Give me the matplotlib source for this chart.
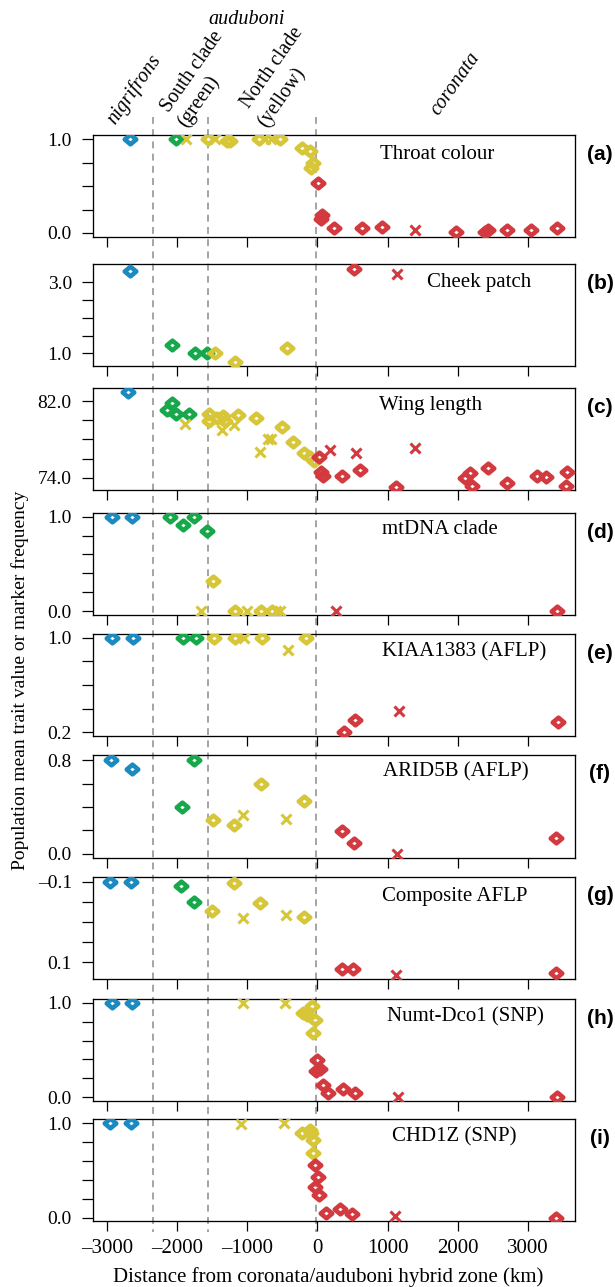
import matplotlib
matplotlib.use("Agg")
import matplotlib.pyplot as plt
from matplotlib.path import Path
from matplotlib.markers import MarkerStyle
from matplotlib.lines import Line2D
from matplotlib.transforms import blended_transform_factory

plt.rcParams['font.family'] = ['Liberation Serif', 'DejaVu Serif']

# ---------------- data (km from hybrid zone, value, group, marker) ----------------
# groups: b = nigrifrons, g = auduboni south clade, y = auduboni north clade, r = coronata
# markers: d = diamond, x = cross
A_KM = [-2676, -2020, -1869, -1565, -1460, -1290, -1240, -830, -740, -660, -531, -215, -100, -57, -85,
        15, 60, 45, 235, 628, 925, 1390, 1973, 2383, 2428, 2703, 3044, 3410]
A_VAL = [1.0, 1.0, 1.0, 1.0, 1.0, 0.98, 0.98, 1.0, 1.0, 1.0, 1.0, 0.91, 0.87, 0.745, 0.69,
         0.53, 0.19, 0.15, 0.055, 0.053, 0.06, 0.035, 0.007, 0.007, 0.03, 0.035, 0.028, 0.05]
A_GRP = "bg" + "y" * 13 + "r" * 13
A_MRK = "dd" + "xdxdddxxddddd" + "ddddddxdddddd"

B_KM = [-2665, -2070, -1750, -1576, -1458, -1172, -437, 517, 1128]
B_VAL = [3.32, 1.24, 1.0, 1.0, 1.0, 0.755, 1.16, 3.39, 3.25]
B_GRP = "bgggyyyrr"
B_MRK = "ddddddddx"

C_KM = [-2693,
        -2076, -2148, -2020, -1835,
        -1879, -1542, -1542, -1431, -1347, -1318, -1133, -1357, -1189, -869, -499, -813, -701, -656,
        -353, -185, -111, -56,
        17, 185, 57, 84, 343, 551, 606, 1123, 1387, 2094, 2172, 2206, 2424, 2706, 3131, 3256, 3547, 3535]
C_VAL = [82.91,
         81.83, 81.07, 80.65, 80.65,
         79.6, 80.65, 79.95, 80.2, 80.44, 79.95, 80.54, 78.98, 79.5, 80.2, 79.32, 76.65, 78.0, 78.0,
         77.76, 76.61, 76.19, 75.77,
         76.19, 76.89, 74.63, 74.18, 74.18, 76.54, 74.8, 73.06, 77.1, 73.96, 74.48, 73.13, 75.0, 73.44,
         74.18, 74.04, 74.6, 73.13]
C_GRP = "b" + "gggg" + "y" * 18 + "r" * 18
C_MRK = "d" + "dddd" + "xddddddxxddxxxdddd" + "dxdddxddxddddddddd"

D_KM = [-2929, -2636, -2093, -1919, -1751, -1576, -1487, -1655, -1178, -1010, -801, -645, -589, -533, 270, 3413]
D_VAL = [1.0, 1.0, 1.0, 0.912, 1.0, 0.848, 0.318, 0.0, 0.0, 0.0, 0.0, 0.0, 0.0, 0.0, 0.0, 0.0]
D_GRP = "bbggggyyyyyyyyrr"
D_MRK = "dddddd" + "dxdxddxx" + "xd"

E_KM = [-2929, -2626, -1919, -1728, -1470, -1167, -1049, -785, -421, -157, 377, 534, 1162, 3430]
E_VAL = [1.0, 1.0, 1.0, 1.0, 1.0, 1.0, 1.0, 1.0, 0.90, 1.0, 0.205, 0.304, 0.383, 0.29]
E_GRP = "bbggyyyyyyrrrr"
E_MRK = "dddd" + "ddxdxd" + "ddxd"

F_KM = [-2946, -2643, -1929, -1751, -1487, -1189, -1066, -801, -443, -185, 354, 522, 1135, 3401]
F_VAL = [0.8, 0.72, 0.403, 0.8, 0.289, 0.247, 0.332, 0.60, 0.298, 0.451, 0.198, 0.096, 0.0, 0.139]
F_GRP = "bbggyyyyyyrrrr"
F_MRK = "dddd" + "ddxdxd" + "ddxd"

G_KM = [-2957, -2653, -1936, -1751, -1498, -1195, -1054, -813, -454, -196, 354, 512, 1123, 3396]
G_VAL = [-0.1, -0.1, -0.09, -0.05, -0.027, -0.0975, -0.009, -0.048, -0.017, -0.011, 0.1166, 0.1166, 0.132, 0.1276]
G_GRP = "bbggyyyyyyrrrr"
G_MRK = "dddd" + "ddxdxd" + "ddxd"

H_KM = [-2929, -2636, -1054, -459, -199, -150, -80, -33, -57, 0, 40, -17, 74, 152, 365, 534, 1140, 3413]
H_VAL = [1.0, 1.0, 1.0, 1.0, 0.89, 0.87, 0.96, 0.816, 0.682, 0.394, 0.299, 0.28, 0.13, 0.042, 0.084, 0.042, 0.007, 0.0]
H_GRP = "bb" + "y" * 7 + "r" * 9
H_MRK = "dd" + "xxddddd" + "dddddddxd"

I_KM = [-2956, -2660, -1083, -470, -222, -104, -85, -57, -57, -33, 14, -33, 28, 120, 325, 498, 1111, 3396]
I_VAL = [1.0, 1.0, 0.99, 1.0, 0.895, 0.93, 0.90, 0.824, 0.683, 0.559, 0.435, 0.329, 0.241, 0.052, 0.096, 0.034, 0.02, 0.0]
I_GRP = "bb" + "y" * 7 + "r" * 9
I_MRK = "dd" + "xxddddd" + "dddddddxd"

PANEL_TITLES = ["Throat colour", "Cheek patch", "Wing length", "mtDNA clade", "KIAA1383 (AFLP)",
                "ARID5B (AFLP)", "Composite AFLP", "Numt-Dco1 (SNP)", "CHD1Z (SNP)"]
PANEL_LETTERS = ["(a)", "(b)", "(c)", "(d)", "(e)", "(f)", "(g)", "(h)", "(i)"]
YTICKS = [[0, 0.25, 0.5, 0.75, 1.0], [1.0, 1.5, 2.0, 2.5, 3.0], [74, 76, 78, 80, 82],
          [0, 0.2, 0.4, 0.6, 0.8, 1.0], [0.2, 0.4, 0.6, 0.8, 1.0], [0, 0.2, 0.4, 0.6, 0.8],
          [-0.1, -0.05, 0, 0.05, 0.1], [0, 0.2, 0.4, 0.6, 0.8, 1.0], [0, 0.2, 0.4, 0.6, 0.8, 1.0]]
YTICKLABELS = [["0.0", "", "", "", "1.0"], ["1.0", "", "", "", "3.0"], ["74.0", "", "", "", "82.0"],
               ["0.0", "", "", "", "", "1.0"], ["0.2", "", "", "", "1.0"], ["0.0", "", "", "", "0.8"],
               ["\u20130.1", "", "", "", "0.1"], ["0.0", "", "", "", "", "1.0"], ["0.0", "", "", "", "", "1.0"]]
YLIMS = [(-0.04, 1.045), (0.64, 3.51), (72.72, 83.33), (-0.042, 1.036), (0.169, 1.029),
         (-0.037, 0.843), (0.143, -0.1125), (-0.039, 1.036), (-0.032, 1.042)]
XTICKS = [-3000, -2000, -1000, 0, 1000, 2000, 3000]
XTICKLABELS = ["\u20133000", "\u20132000", "\u20131000", "0", "1000", "2000", "3000"]
CLADE_BOUNDARIES_KM = [-2335, -1555, -15]

COLORS = {'b': '#1b8ac0', 'g': '#17a84b', 'y': '#d6c638', 'r': '#d23a40'}

# ---------------- layout (pixels) ----------------
W, H = 615, 1287
fig = plt.figure(figsize=(W / 100, H / 100), dpi=100)
LEFT, RIGHT = 92.7, 574.5
TOPS = [135, 264.3, 388.3, 513.3, 634.3, 755, 876.7, 999.3, 1119.3]
BOTS = [236.7, 366, 490, 615, 736, 858.3, 979.3, 1101, 1220.7]
TITLE_POS = [(0.714, 0.813), (0.803, 0.823), (0.702, 0.826), (0.72, 0.836), (0.771, 0.829),
             (0.754, 0.838), (0.752, 0.805), (0.774, 0.829), (0.75, 0.828)]

diamond = MarkerStyle(Path([(-1.2, 0), (0, 1), (1.2, 0), (0, -1), (-1.2, 0)],
                           [Path.MOVETO, Path.LINETO, Path.LINETO, Path.LINETO, Path.CLOSEPOLY]),
                      joinstyle='round')

panels = [(A_KM, A_VAL, A_GRP, A_MRK), (B_KM, B_VAL, B_GRP, B_MRK), (C_KM, C_VAL, C_GRP, C_MRK),
          (D_KM, D_VAL, D_GRP, D_MRK), (E_KM, E_VAL, E_GRP, E_MRK), (F_KM, F_VAL, F_GRP, F_MRK),
          (G_KM, G_VAL, G_GRP, G_MRK), (H_KM, H_VAL, H_GRP, H_MRK), (I_KM, I_VAL, I_GRP, I_MRK)]

axes = []
for k, (km, val, grp, mrk) in enumerate(panels):
    t, b = TOPS[k], BOTS[k]
    ax = fig.add_axes([LEFT / W, 1 - b / H, (RIGHT - LEFT) / W, (b - t) / H])
    ax.set_facecolor('none')
    axes.append(ax)
    for g in "bgyr":
        for m in "dx":
            xs = [x for x, gg, mm in zip(km, grp, mrk) if gg == g and mm == m]
            ys = [y for y, gg, mm in zip(val, grp, mrk) if gg == g and mm == m]
            if not xs:
                continue
            if m == 'd':
                ax.plot(xs, ys, linestyle='none', marker=diamond, markersize=8.3,
                        markerfacecolor='none', markeredgecolor=COLORS[g], markeredgewidth=3.3, zorder=3)
            else:
                ax.plot(xs, ys, linestyle='none', marker='x', markersize=7.6,
                        markeredgecolor=COLORS[g], markeredgewidth=2.2, zorder=3)
    ax.set_xlim(-3200, 3660)
    ax.set_ylim(*YLIMS[k])
    ax.set_yticks(YTICKS[k])
    ax.set_yticklabels(YTICKLABELS[k], fontsize=14)
    ax.set_xticks(XTICKS)
    if k == len(panels) - 1:
        ax.set_xticklabels(XTICKLABELS, fontsize=15)
    else:
        ax.set_xticklabels([])
    ax.tick_params(axis='y', direction='out', length=8, width=0.9, pad=7)
    ax.tick_params(axis='x', direction='out', length=7.2, width=0.9, pad=6)
    for s in ax.spines.values():
        s.set_linewidth(0.95)
    ax.text(TITLE_POS[k][0], TITLE_POS[k][1], PANEL_TITLES[k], transform=ax.transAxes,
            ha='center', va='center', fontsize=15)
    fig.text(600 / W, 1 - (t + 19) / H, PANEL_LETTERS[k], ha='center', va='center',
             fontsize=15, fontweight='bold', family=['Liberation Sans', 'DejaVu Sans'])

# vertical dashed clade boundaries spanning the whole stack (behind the transparent panels)
trans = blended_transform_factory(axes[-1].transData, fig.transFigure)
for xb in CLADE_BOUNDARIES_KM:
    fig.add_artist(Line2D([xb, xb], [1 - 117 / H, 1 - 1232 / H], transform=trans,
                          color='#8c8c8c', lw=1.1, linestyle=(0, (4.5, 3.5)), zorder=-1))

# header labels
fig.text(247 / W, 1 - 20 / H, "auduboni", style='italic', fontsize=14.5, ha='center', va='center')
fig.text(134 / W, 1 - 89 / H, "nigrifrons", style='italic', fontsize=14.5, rotation=55,
         ha='center', va='center', rotation_mode='anchor')
fig.text(192 / W, 1 - 72 / H, "South clade", fontsize=14.5, rotation=55,
         ha='center', va='center', rotation_mode='anchor')
fig.text(199 / W, 1 - 102 / H, "(green)", fontsize=14.5, rotation=55,
         ha='center', va='center', rotation_mode='anchor')
fig.text(272 / W, 1 - 68 / H, "North clade", fontsize=14.5, rotation=55,
         ha='center', va='center', rotation_mode='anchor')
fig.text(282 / W, 1 - 97 / H, "(yellow)", fontsize=14.5, rotation=55,
         ha='center', va='center', rotation_mode='anchor')
fig.text(455 / W, 1 - 84 / H, "coronata", style='italic', fontsize=14.5, rotation=55,
         ha='center', va='center', rotation_mode='anchor')

fig.text(20 / W, 1 - 680 / H, "Population mean trait value or marker frequency", rotation=90,
         ha='center', va='center', fontsize=14)
fig.text(328 / W, 1 - 1277 / H, "Distance from coronata/auduboni hybrid zone (km)",
         ha='center', va='center', fontsize=15)

fig.savefig("out.png", dpi=100)
